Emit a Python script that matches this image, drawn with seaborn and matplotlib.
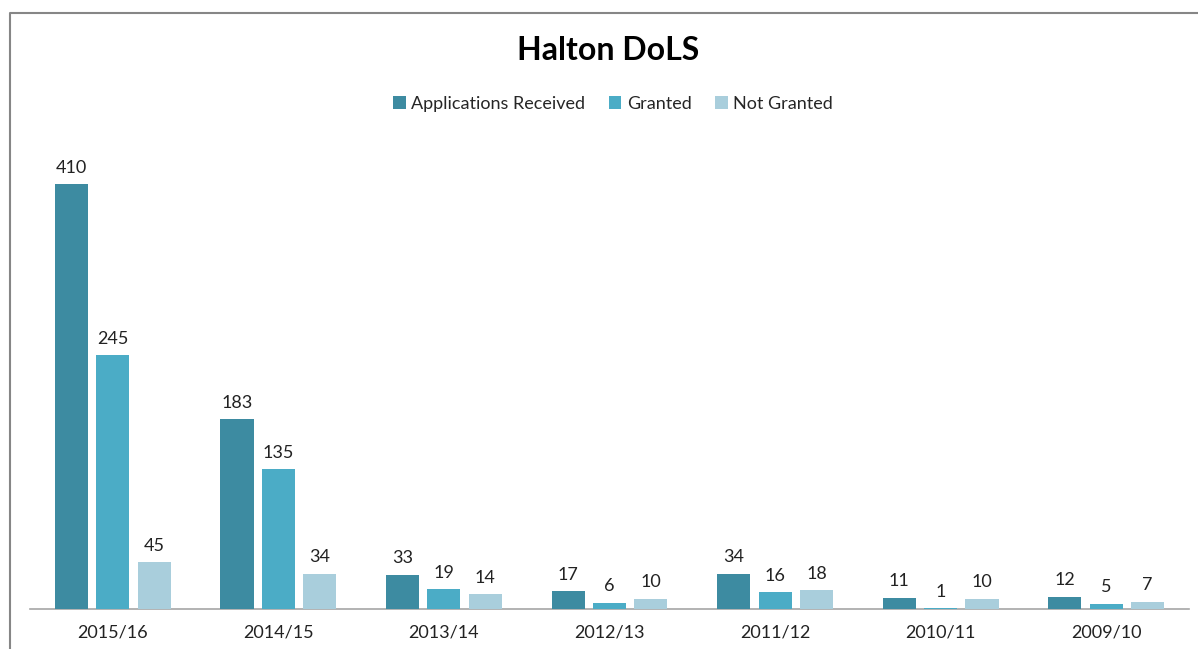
import matplotlib
matplotlib.use("Agg")
import matplotlib.pyplot as plt
import seaborn as sns
import pandas as pd
from matplotlib.lines import Line2D
from matplotlib.patches import Patch

years = ["2015/16", "2014/15", "2013/14", "2012/13", "2011/12", "2010/11", "2009/10"]
applications = [410, 183, 33, 17, 34, 11, 12]
granted = [245, 135, 19, 6, 16, 1, 5]
not_granted = [45, 34, 14, 10, 18, 10, 7]
series = ["Applications Received", "Granted", "Not Granted"]
colors = ["#3D8BA1", "#4BACC6", "#A9CEDC"]

rows = []
for name, vals in zip(series, [applications, granted, not_granted]):
    for y, v in zip(years, vals):
        rows.append({"Year": y, "Series": name, "Value": v})
df = pd.DataFrame(rows)

sns.set_theme(style="white")
plt.rcParams['font.family'] = ['Lato', 'DejaVu Sans']

fig = plt.figure(figsize=(11.98, 6.49), dpi=100)
W, H = 1198, 649
ax = fig.add_axes([30 / W, 1 - 609 / H, (1189 - 30) / W, (609 - 150) / H])

sns.barplot(data=df, x="Year", y="Value", hue="Series", hue_order=series,
            order=years, palette=colors, width=0.75, gap=0.2, ax=ax,
            legend=False, saturation=1, errorbar=None, linewidth=0)

for cont in ax.containers:
    for p in cont.patches:
        p.set_zorder(5)
    ax.bar_label(cont, padding=6, fontsize=13, color="#222222")

ax.set_ylim(0, 443)
ax.set_xlim(-0.5, 6.5)
ax.set_xlabel("")
ax.set_ylabel("")
ax.set_yticks([])
for s in ["top", "right", "left"]:
    ax.spines[s].set_visible(False)
ax.spines["bottom"].set_color("#A6A6A6")
ax.spines["bottom"].set_linewidth(1.2)
ax.spines["bottom"].set_zorder(1)
ax.tick_params(axis="x", length=0, labelsize=13, colors="#222222", pad=11)

fig.text(608 / W, 1 - 50 / H, "Halton DoLS", ha="center", va="center",
         fontsize=23, fontweight="bold", color="black")

handles = [Patch(facecolor=c, edgecolor="none", label=s) for s, c in zip(series, colors)]
fig.legend(handles=handles, loc="center", bbox_to_anchor=(613 / W, 1 - 104 / H),
           ncol=3, frameon=False, fontsize=13, handlelength=0.7, handleheight=0.7,
           handletextpad=0.3, columnspacing=1.3)

# chart border (left and top)
fig.add_artist(Line2D([9.5 / W, 9.5 / W, 1.0], [0, 1 - 12.5 / H, 1 - 12.5 / H],
                      transform=fig.transFigure, color="#868686", linewidth=1.5))

fig.savefig("out.png", dpi=100)
